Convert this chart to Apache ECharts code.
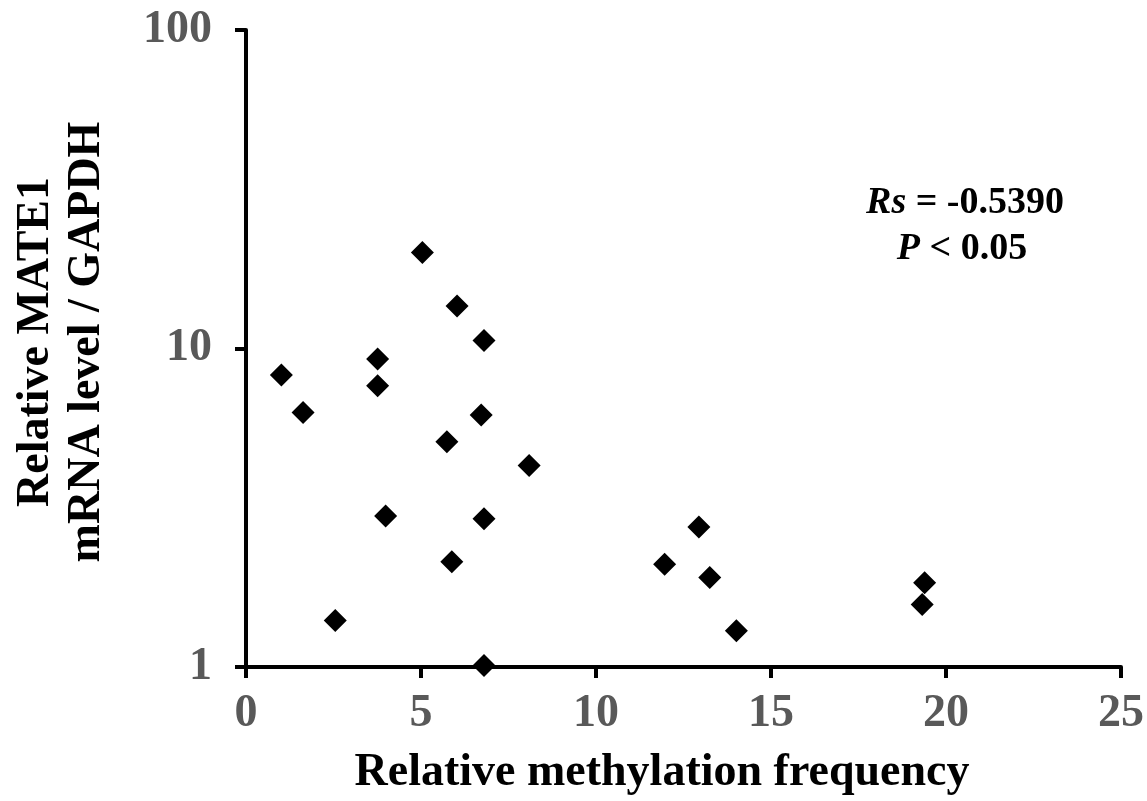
<!DOCTYPE html>
<html>
<head>
<meta charset="utf-8">
<script src="https://cdn.jsdelivr.net/npm/echarts@6/dist/echarts.min.js"></script>
<style>
  html, body { margin: 0; padding: 0; background: #fff; }
  #main { width: 1147px; height: 801px; }
</style>
</head>
<body>
<div id="main"></div>
<script>
// methylation frequency (x) vs relative MATE1 mRNA / GAPDH (y, log scale)
var methylation = [1.01, 1.63, 2.55, 3.76, 3.76, 3.99, 5.04, 5.74, 5.88, 6.03, 6.80, 6.72, 6.80, 6.80, 8.09,
    11.96, 12.94, 13.25, 14.01, 19.39, 19.32];
var mrnaLevel = [8.26, 6.30, 1.40, 9.27, 7.64, 2.98, 20.0, 5.10, 2.14, 13.6, 10.6, 6.18, 2.92, 1.01, 4.29,
    2.10, 2.75, 1.91, 1.30, 1.84, 1.57];
var xTicks = [0, 5, 10, 15, 20, 25];
var yTicks = [1, 10, 100];

var points = methylation.map(function (x, i) { return [x, mrnaLevel[i]]; });
var serif = '"Liberation Serif", "Times New Roman", serif';

var chart = echarts.init(document.getElementById('main'));
var option = {
    animation: false,
    grid: { left: 246, right: 25, top: 30, bottom: 134 },
    xAxis: {
        type: 'value',
        min: xTicks[0],
        max: xTicks[xTicks.length - 1],
        interval: 5,
        splitLine: { show: false },
        axisLine: { lineStyle: { color: '#000', width: 4 } },
        axisTick: { length: 11, lineStyle: { color: '#000', width: 4 } },
        axisLabel: { color: '#595959', fontFamily: serif, fontWeight: 'bold', fontSize: 46, margin: 24 }
    },
    yAxis: {
        type: 'log',
        logBase: 10,
        min: yTicks[0],
        max: yTicks[yTicks.length - 1],
        splitLine: { show: false },
        minorTick: { show: false },
        axisLine: { show: true, lineStyle: { color: '#000', width: 4 } },
        axisTick: { show: true, length: 11, lineStyle: { color: '#000', width: 4 } },
        axisLabel: { color: '#595959', fontFamily: serif, fontWeight: 'bold', fontSize: 46, margin: 34 }
    },
    graphic: [
        {
            type: 'text', x: 662, y: 773,
            style: { text: 'Relative methylation frequency', font: 'bold 46px ' + serif, fill: '#000',
                align: 'center', verticalAlign: 'middle' }
        },
        {
            type: 'text', x: 62, y: 342, rotation: Math.PI / 2,
            style: { text: 'Relative MATE1\nmRNA level / GAPDH', font: 'bold 46px ' + serif, fill: '#000',
                align: 'center', verticalAlign: 'middle', lineHeight: 51 }
        },
        {
            type: 'text', x: 965, y: 203,
            style: {
                text: '{i|Rs}{n| = -0.5390}',
                align: 'center', verticalAlign: 'middle',
                rich: {
                    i: { font: 'italic bold 38px ' + serif, fill: '#000' },
                    n: { font: 'bold 38px ' + serif, fill: '#000' }
                }
            }
        },
        {
            type: 'text', x: 962, y: 249,
            style: {
                text: '{i|P}{n| < 0.05}',
                align: 'center', verticalAlign: 'middle',
                rich: {
                    i: { font: 'italic bold 38px ' + serif, fill: '#000' },
                    n: { font: 'bold 38px ' + serif, fill: '#000' }
                }
            }
        }
    ],
    series: [{
        type: 'scatter',
        data: points,
        symbol: 'diamond',
        symbolSize: 23,
        itemStyle: { color: '#000', opacity: 1 }
    }]
};
chart.setOption(option);
window.addEventListener('resize', function () { chart.resize(); });
</script>
</body>
</html>
